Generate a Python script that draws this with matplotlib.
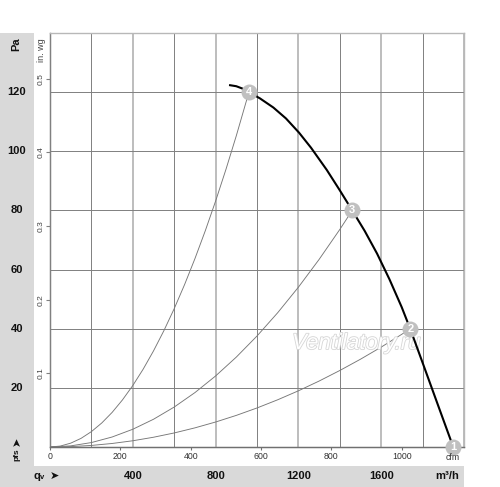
import matplotlib
matplotlib.use('Agg')
import matplotlib.pyplot as plt
from matplotlib.patches import Rectangle
import matplotlib.transforms as mtransforms
import matplotlib.patheffects as pe
import numpy as np

plt.rcParams['font.family'] = ['Liberation Sans', 'DejaVu Sans']

# ---- data ----
fan_q = [865, 900, 930, 961, 1014, 1079, 1140, 1203, 1261, 1337, 1400, 1460,
         1520, 1580, 1640, 1699, 1741, 1800, 1870, 1948]
fan_p = [122.4, 122.0, 121.2, 120.0, 117.9, 114.8, 111.1, 106.3, 101.2, 93.7, 86.8, 80.0,
         73.1, 65.4, 56.7, 47.3, 39.8, 28.5, 15.0, 0.0]

sys4_q = [0, 50, 100, 150, 200, 250, 300, 350, 400, 450, 500, 550, 600, 650,
          700, 750, 800, 850, 900, 961]
sys4_p = [0, 0.32, 1.30, 2.92, 5.20, 8.12, 11.69, 15.92, 20.79, 26.31, 32.49, 39.31,
          46.78, 54.90, 63.67, 73.09, 83.16, 93.88, 105.25, 120.0]
sys3_q = [0, 100, 200, 300, 400, 500, 600, 700, 800, 900, 1000, 1100, 1200,
          1300, 1400, 1460]
sys3_p = [0, 0.38, 1.50, 3.38, 6.00, 9.38, 13.51, 18.39, 24.02, 30.40, 37.53, 45.41,
          54.04, 63.43, 73.56, 80.0]
sys2_q = [0, 100, 200, 300, 400, 500, 600, 700, 800, 900, 1000, 1100, 1200,
          1300, 1400, 1500, 1600, 1700, 1741]
sys2_p = [0, 0.13, 0.53, 1.19, 2.11, 3.30, 4.75, 6.47, 8.45, 10.69, 13.20, 15.97,
          19.00, 22.30, 25.87, 29.69, 33.78, 38.14, 40.0]

pt_q = [1948, 1741, 1460, 961]
pt_p = [0, 40, 80, 120]
pt_labels = ['1', '2', '3', '4']

pa_ticks = [20, 40, 60, 80, 100, 120]
inwg_ticks = [0.1, 0.2, 0.3, 0.4, 0.5]
cfm_ticks = [0, 200, 400, 600, 800, 1000]
m3h_labels = [400, 800, 1200, 1600]

W, H = 500, 487
fig = plt.figure(figsize=(W / 100, H / 100), dpi=100)
fig.patch.set_facecolor('white')

def fx(px):
    return px / W

def fy(py):
    return 1 - py / H

ax = fig.add_axes([fx(50), fy(447), 414 / W, 414 / H])
ax.set_xlim(0, 2000)
ax.set_ylim(0, 140)

# gray panels
fig.add_artist(Rectangle((0, 0), fx(34), fy(33), transform=fig.transFigure,
                         facecolor='#d9d9d9', edgecolor='none', zorder=-5))
fig.add_artist(Rectangle((0, 0), fx(464), 21 / H, transform=fig.transFigure,
                         facecolor='#d9d9d9', edgecolor='none', zorder=-5))

# grid
ax.set_xticks(np.arange(0, 2001, 400))
ax.set_xticks(np.arange(200, 2000, 400), minor=True)
ax.set_yticks(np.arange(0, 141, 20))
ax.grid(which='major', axis='x', color='#bdbdbd', lw=1.4)
ax.grid(which='minor', axis='x', color='#808080', lw=0.7)
ax.grid(which='major', axis='y', color='#808080', lw=0.7)
ax.set_axisbelow(True)
ax.tick_params(which='both', length=0, labelbottom=False, labelleft=False)
ax.spines['left'].set_color('#808080')
ax.spines['bottom'].set_color('#707070')
ax.spines['top'].set_color('#b8b8b8')
ax.spines['right'].set_color('#b8b8b8')
for s in ax.spines.values():
    s.set_linewidth(1.0)

# curves
for qs, ps in ((sys4_q, sys4_p), (sys3_q, sys3_p), (sys2_q, sys2_p)):
    ax.plot(qs, ps, color='#777777', lw=0.65, zorder=3)
ax.plot(fan_q, fan_p, color='black', lw=1.5, zorder=4, solid_capstyle='butt',
        solid_joinstyle='round')

# watermark
ax.text(1480, 35, 'Ventilatory.ru', fontsize=16, style='italic', color='white',
        ha='center', va='center', zorder=3.5,
        path_effects=[pe.withStroke(linewidth=1.2, foreground='#d6d6d6')])

# operating points
ax.plot(pt_q, pt_p, 'o', ms=11.5, color='#c0c0c0', mec='none', clip_on=False, zorder=6)
for q, p, l in zip(pt_q, pt_p, pt_labels):
    ax.text(q, p, l, color='white', fontweight='bold', fontsize=8, ha='center',
            va='center', zorder=7, clip_on=False)

# Pa labels in left panel
tr_y = mtransforms.blended_transform_factory(fig.transFigure, ax.transData)
for v in pa_ticks:
    ax.text(fx(17), v, str(v), transform=tr_y, ha='center', va='center',
            fontweight='bold', fontsize=8, color='#111111', clip_on=False)
fig.text(fx(16), fy(44), 'Pa', rotation=90, ha='center', va='center',
         fontweight='bold', fontsize=8, color='#111111')
fig.text(fx(17), fy(455), 'pfs', rotation=90, ha='center', va='center',
         fontweight='bold', fontsize=6, color='#111111')
fig.text(fx(17), fy(441), '➤', rotation=90, ha='center', va='center',
         fontsize=8, color='#111111')

# in. wg secondary axis
sec = ax.secondary_yaxis('left', functions=(lambda p: p / 249.089, lambda i: i * 249.089))
sec.set_yticks(inwg_ticks)
sec.set_yticklabels([str(t) for t in inwg_ticks])
sec.tick_params(length=3, width=0.8, color='#808080', labelsize=6, labelcolor='#444444', pad=1)
for lbl in sec.get_yticklabels():
    lbl.set_rotation(90)
    lbl.set_va('center')
sec.spines['left'].set_color('#808080')
fig.text(fx(42), fy(50), 'in. wg', rotation=90, ha='center', va='center',
         fontsize=6.5, color='#444444')

# cfm secondary axis
secx = ax.secondary_xaxis('bottom', functions=(lambda q: q / 1.699, lambda c: c * 1.699))
secx.set_xticks(cfm_ticks)
secx.set_xticklabels([str(t) for t in cfm_ticks])
secx.tick_params(length=2, width=0.8, color='#707070', labelsize=6.3, labelcolor='#333333', pad=1.5)
secx.spines['bottom'].set_color('#707070')
fig.text(fx(453), fy(457), 'cfm', ha='center', va='center', fontsize=6.3,
         color='#333333', zorder=1)

# m3/h labels in bottom band
tr_x = mtransforms.blended_transform_factory(ax.transData, fig.transFigure)
for v in m3h_labels:
    ax.text(v, fy(476), str(v), transform=tr_x, ha='center', va='center',
            fontweight='bold', fontsize=8, color='#111111', clip_on=False)
fig.text(fx(447), fy(476), 'm³/h', ha='center', va='center',
         fontweight='bold', fontsize=8, color='#111111')
fig.text(fx(34), fy(476), 'q', ha='left', va='center', fontweight='bold',
         fontsize=8, color='#111111')
fig.text(fx(39.5), fy(477.5), 'v', ha='left', va='center', fontweight='bold',
         fontsize=5.5, color='#111111')
fig.text(fx(50), fy(476), '➤', ha='left', va='center', fontsize=8, color='#111111')

fig.savefig('out.png', dpi=100)
